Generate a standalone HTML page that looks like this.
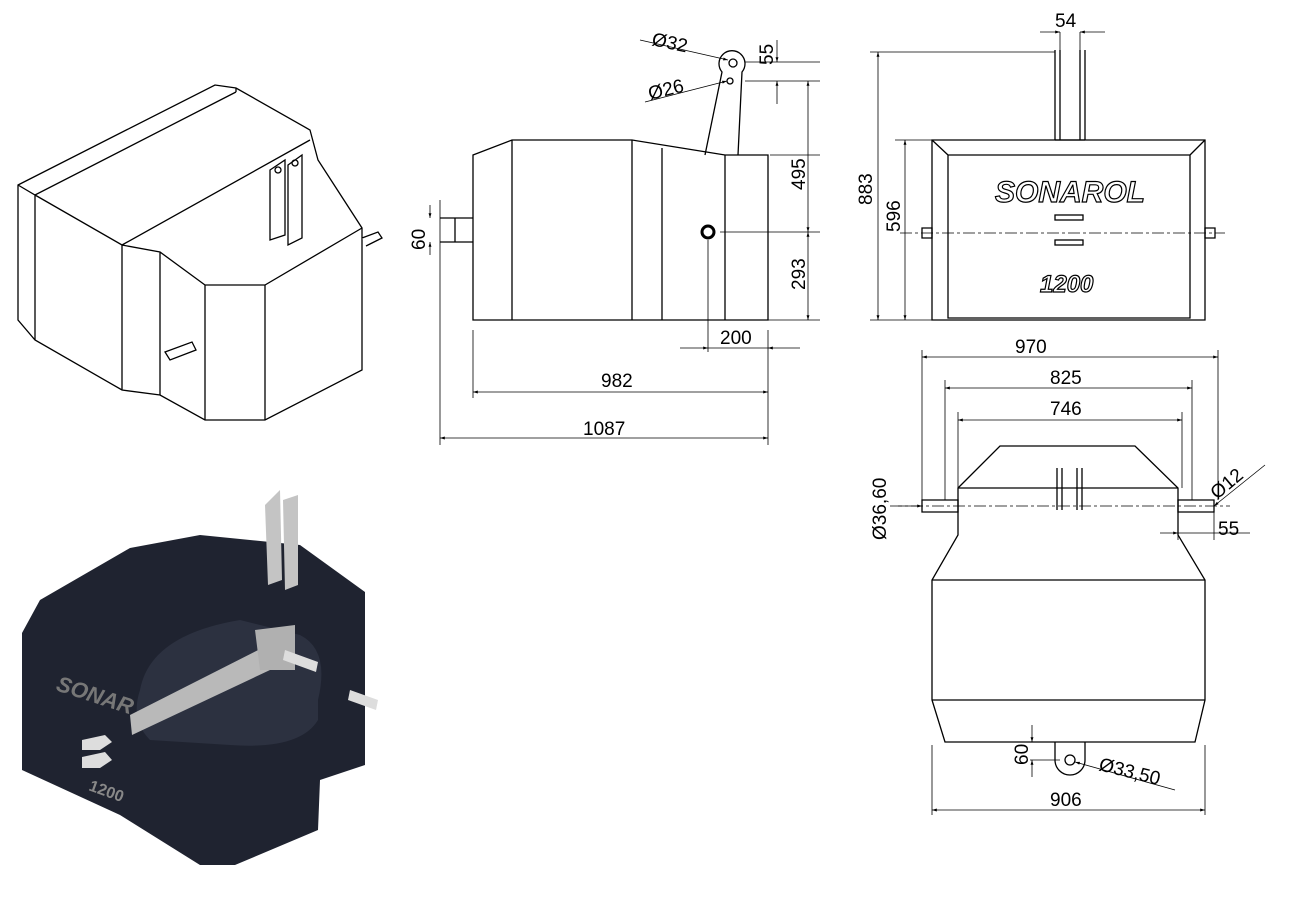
<!DOCTYPE html>
<html><head><meta charset="utf-8"><style>
html,body{margin:0;padding:0;background:#fff;width:1290px;height:897px;overflow:hidden}
svg{display:block}
text{font-family:"Liberation Sans","DejaVu Sans",sans-serif;font-size:19px;fill:#000}
</style></head><body>
<svg width="1290" height="897" viewBox="0 0 1290 897" xmlns="http://www.w3.org/2000/svg">
<defs>
<marker id="a" viewBox="0 0 10 10" refX="10" refY="5" markerWidth="10" markerHeight="6" orient="auto-start-reverse"><path d="M0,2 L10,5 L0,8 Z" fill="#000"/></marker>
</defs>
<!-- isometric line drawing -->
<g fill="none" stroke="#000" stroke-width="1.3">
<path d="M18,185 L215,85 L236,88 L310,130 L318,160 L362,228 L362,370 L265,420 L205,420 L160,395 L122,390 L35,340 L18,320 Z" fill="#fff"/>
<path d="M18,185 L35,195 L236,92 M35,195 L35,340 M35,195 L122,245 L160,252 L205,285 L265,285 L362,228 M122,245 L122,390 M160,252 L160,395 M205,285 L205,420 M265,285 L265,420 M122,245 L310,140 M236,88 L236,92"/>
<path d="M270,170 L285,160 L285,235 L270,240 Z M288,165 L302,155 L302,238 L288,245 Z" fill="#fff"/>
<circle cx="278" cy="170" r="3"/><circle cx="295" cy="163" r="3"/>
<path d="M362,238 L378,232 L382,238 L366,246" fill="#fff"/>
<path d="M165,352 L192,342 L196,350 L170,360 Z" fill="#fff"/>
</g>
<!-- dark render -->
<g>
<path d="M40,600 L130,548 L200,535 L300,545 L365,592 L365,765 L320,780 L318,830 L235,865 L200,865 L120,815 L22,770 L22,633 Z" fill="#1f2330"/>
<path d="M140,690 Q150,635 240,620 L300,635 Q330,650 318,700 L318,720 Q300,750 230,745 L150,740 Q130,720 140,690 Z" fill="#2c3140"/>
<path d="M130,715 L268,645 L270,670 L132,735 Z" fill="#b9b9b9"/>
<path d="M265,505 L280,490 L282,580 L268,585 Z M283,500 L298,495 L298,585 L285,590 Z" fill="#c4c4c4"/>
<path d="M255,630 L295,625 L295,670 L260,670 Z" fill="#b0b0b0"/>
<path d="M285,650 L318,662 L316,672 L283,660 Z" fill="#ddd"/>
<path d="M350,690 L378,700 L376,710 L348,700 Z" fill="#ddd"/>
<path d="M82,740 L105,735 L112,742 L100,750 L82,750 Z M82,757 L105,752 L112,760 L100,768 L82,768 Z" fill="#ddd"/>
<text x="55" y="690" style="font-size:22px;font-weight:bold;fill:#777;font-style:italic" transform="rotate(18 55 690)">SONAR</text>
<text x="88" y="790" style="font-size:16px;font-weight:bold;fill:#888" transform="rotate(20 88 790)">1200</text>
</g>
<!-- side view -->
<g fill="none" stroke="#000" stroke-width="1.3">
<path d="M473,155 L512,140 L632,140 L725,155 L768,155 L768,320 L473,320 Z"/>
<path d="M512,140 V320 M632,140 V320 M662,148 V320 M725,155 V320"/>
<path d="M705,155 L722,72 A13,13 0 1 1 742,72 L738,155"/>
<circle cx="733" cy="63" r="4"/><circle cx="730" cy="81" r="3"/>
<circle cx="708" cy="232" r="6" stroke-width="3"/>
<path d="M440,218 H473 M440,242 H473 M455,218 V242"/>
</g>
<g stroke="#000" stroke-width="0.8" fill="none">
<path d="M440,200 V445 M768,330 V445 M473,330 V398 M708,240 V352"/>
<line x1="473" y1="392" x2="768" y2="392" marker-start="url(#a)" marker-end="url(#a)"/>
<line x1="440" y1="438" x2="768" y2="438" marker-start="url(#a)" marker-end="url(#a)"/>
<line x1="680" y1="348" x2="708" y2="348" marker-end="url(#a)"/><line x1="800" y1="348" x2="768" y2="348" marker-end="url(#a)"/>
<line x1="708" y1="348" x2="768" y2="348"/>
<line x1="430" y1="205" x2="430" y2="218" marker-end="url(#a)"/><line x1="430" y1="255" x2="430" y2="242" marker-end="url(#a)"/>
<path d="M745,62 H820 M745,81 H820 M770,155 H820 M720,232 H820 M768,320 H820"/>
<line x1="808" y1="81" x2="808" y2="232" marker-start="url(#a)" marker-end="url(#a)"/>
<line x1="808" y1="232" x2="808" y2="320" marker-start="url(#a)" marker-end="url(#a)"/>
<line x1="777" y1="40" x2="777" y2="62" marker-end="url(#a)"/><line x1="777" y1="104" x2="777" y2="81" marker-end="url(#a)"/>
<line x1="640" y1="40" x2="728" y2="60" marker-end="url(#a)"/>
<line x1="645" y1="102" x2="727" y2="81" marker-end="url(#a)"/>
</g>
<text x="651" y="45" transform="rotate(12 651 45)">Ø32</text>
<text x="650" y="100" transform="rotate(-14 650 100)">Ø26</text>
<text x="773" y="65" transform="rotate(-90 773 65)">55</text>
<text x="805" y="190" transform="rotate(-90 805 190)">495</text>
<text x="805" y="290" transform="rotate(-90 805 290)">293</text>
<text x="425" y="250" transform="rotate(-90 425 250)">60</text>
<text x="720" y="344">200</text>
<text x="601" y="387">982</text>
<text x="583" y="435">1087</text>
<!-- front view -->
<g fill="none" stroke="#000" stroke-width="1.3">
<path d="M932,140 H1205 V320 H932 Z"/>
<path d="M948,155 H1190 V318 H948 Z M932,140 L948,155 M1205,140 L1190,155"/>
<path d="M1055,50 V140 M1085,50 V140 M1060,50 V140 M1080,50 V140"/>
<path d="M1055,140 H1085"/>
<rect x="1055" y="215" width="28" height="5"/><rect x="1055" y="240" width="28" height="5"/>
<path d="M922,228 H932 V238 H922 Z M1205,228 H1215 V238 H1205 Z"/>
</g>
<text x="995" y="202" style="font-size:30px;font-weight:bold;font-style:italic;fill:#fff;stroke:#000;stroke-width:1.2">SONAROL</text>
<text x="1040" y="292" style="font-size:24px;font-weight:bold;font-style:italic;fill:#fff;stroke:#000;stroke-width:1.2">1200</text>
<g stroke="#000" stroke-width="0.8" fill="none">
<path d="M870,52 H1055 M895,140 H932 M870,320 H932 M1060,32 V50 M1080,32 V50"/>
<line x1="878" y1="52" x2="878" y2="320" marker-start="url(#a)" marker-end="url(#a)"/>
<line x1="905" y1="140" x2="905" y2="320" marker-start="url(#a)" marker-end="url(#a)"/>
<line x1="1040" y1="32" x2="1060" y2="32" marker-end="url(#a)"/><line x1="1105" y1="32" x2="1080" y2="32" marker-end="url(#a)"/>
<path d="M900,233 H1225" stroke-dasharray="12,3,3,3"/>
</g>
<text x="1055" y="27">54</text>
<text x="872" y="205" transform="rotate(-90 872 205)">883</text>
<text x="900" y="232" transform="rotate(-90 900 232)">596</text>
<!-- top view -->
<g fill="none" stroke="#000" stroke-width="1.3">
<path d="M958,488 L1000,446 L1135,446 L1178,488 L1178,535 L1205,580 L1205,700 L1195,742 L945,742 L932,700 L932,580 L958,535 Z"/>
<path d="M958,488 H1178 M932,580 H1205 M932,700 H1205"/>
<path d="M1057,468 V510 M1062,468 V510 M1077,468 V510 M1082,468 V510"/>
<path d="M922,500 H958 V512 H922 Z M1178,500 H1214 V512 H1178 Z"/>
<path d="M1055,742 V760 A15,15 0 0 0 1085,760 V742"/>
<circle cx="1070" cy="760" r="5"/>
</g>
<g stroke="#000" stroke-width="0.8" fill="none">
<path d="M890,506 H1230" stroke-dasharray="12,3,3,3"/>
<path d="M922,350 V500 M1218,350 V500 M945,380 V500 M1192,380 V500 M958,412 V488 M1182,412 V488 M932,745 V815 M1205,745 V815 M1030,742 H1055 M1030,760 H1060"/>
<line x1="922" y1="357" x2="1218" y2="357" marker-start="url(#a)" marker-end="url(#a)"/>
<line x1="945" y1="388" x2="1192" y2="388" marker-start="url(#a)" marker-end="url(#a)"/>
<line x1="958" y1="420" x2="1182" y2="420" marker-start="url(#a)" marker-end="url(#a)"/>
<line x1="932" y1="810" x2="1205" y2="810" marker-start="url(#a)" marker-end="url(#a)"/>
<line x1="1032" y1="725" x2="1032" y2="742" marker-end="url(#a)"/><line x1="1032" y1="777" x2="1032" y2="760" marker-end="url(#a)"/>
<line x1="1175" y1="790" x2="1075" y2="762" marker-end="url(#a)"/>
<line x1="1265" y1="465" x2="1214" y2="506" marker-end="url(#a)"/>
<path d="M1214,512 V540 M1178,512 V540 M1178,533 H1250"/>
<line x1="1160" y1="533" x2="1178" y2="533" marker-end="url(#a)"/>
<line x1="898" y1="506" x2="922" y2="506" marker-end="url(#a)"/>
</g>
<text x="1015" y="353">970</text>
<text x="1050" y="384">825</text>
<text x="1050" y="415">746</text>
<text x="1050" y="806">906</text>
<text x="1218" y="535">55</text>
<text x="1217" y="500" transform="rotate(-40 1217 500)">Ø12</text>
<text x="886" y="540" transform="rotate(-90 886 540)">Ø36,60</text>
<text x="1028" y="765" transform="rotate(-90 1028 765)">60</text>
<text x="1098" y="770" transform="rotate(14 1098 770)">Ø33,50</text>
</svg>
</body></html>
